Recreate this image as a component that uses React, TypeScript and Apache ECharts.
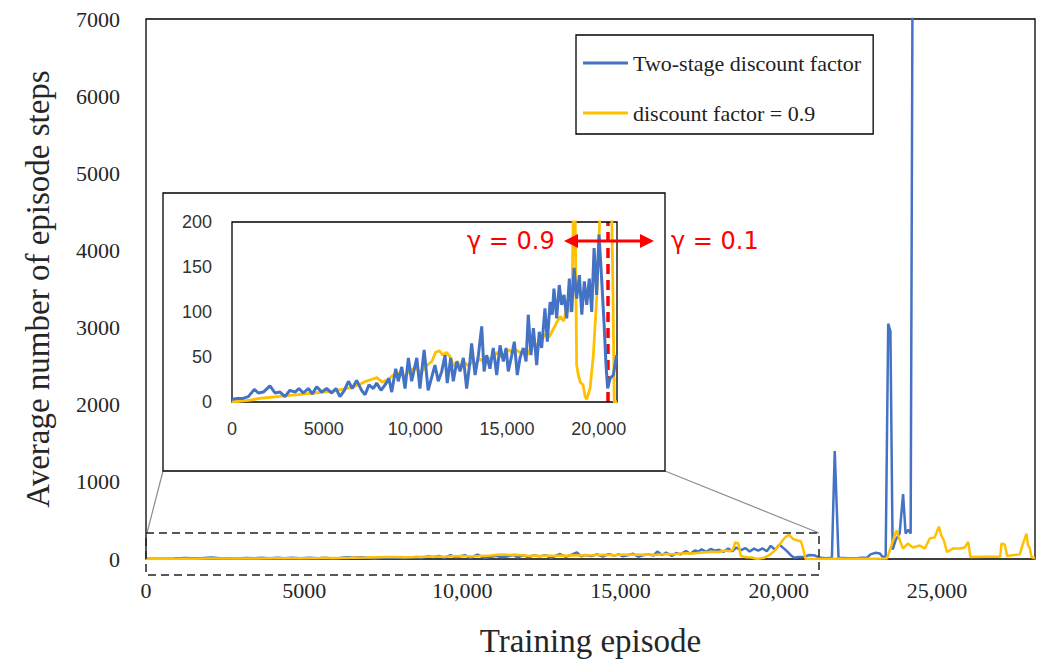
import React, { useEffect, useRef } from 'react';
import * as echarts from 'echarts';

// ---- data (episode, average steps) ----
const blueEarly: [number, number][] = [
  [0, 3], [300, 4], [600, 4], [890, 6], [1220, 14], [1440, 10], [1710, 11], [2070, 18], [2350, 10], [2620, 11],
  [2890, 6], [3160, 13], [3440, 11], [3650, 15], [3890, 10], [4160, 15], [4380, 9], [4620, 17], [4890, 11], [5160, 15],
  [5440, 10], [5670, 15], [5890, 6], [6130, 13], [6350, 23], [6560, 15], [6800, 24], [7070, 13], [7260, 8], [7470, 19],
  [7710, 15], [7890, 21], [8130, 13], [8350, 19], [8560, 26], [8710, 11], [8930, 37], [9070, 23], [9260, 39], [9440, 15],
  [9620, 49], [9800, 23], [10080, 49], [10250, 15], [10480, 58], [10700, 13], [11070, 41], [11250, 23], [11440, 34], [11620, 52],
  [11740, 21], [11930, 49], [12070, 23], [12260, 45], [12440, 34], [12620, 49], [12800, 15], [12980, 45], [13070, 65], [13260, 30],
  [13440, 52], [13620, 84], [13750, 34], [13890, 52], [14070, 37], [14250, 60], [14440, 30], [14620, 63], [14800, 45], [14950, 60],
  [15070, 34], [15260, 52], [15400, 67], [15560, 30], [15710, 49], [15890, 60], [16040, 45], [16160, 97], [16310, 52], [16440, 82],
  [16620, 41], [16760, 78], [16890, 60], [17070, 104], [17200, 67], [17350, 111], [17470, 97], [17560, 126], [17710, 93], [17850, 130],
  [17980, 108], [18110, 119], [18260, 93], [18400, 137], [18530, 100], [18660, 149], [18800, 115], [18950, 141], [19080, 97], [19220, 134],
  [19350, 108], [19490, 137], [19620, 100], [19750, 171], [19890, 119], [20020, 186], [20170, 134], [20290, 89], [20400, 41], [20490, 15],
  [20620, 26], [20800, 30], [20980, 52],
];
const blueLate: [number, number][] = [
  [21150, 45], [21300, 15], [21500, 10], [21680, 15], [21770, 1400], [21890, 15], [22200, 10], [22500, 12], [22800, 20], [22900, 60],
  [23050, 80], [23200, 70], [23300, 20], [23380, 40], [23460, 3050], [23530, 2950], [23600, 120], [23700, 250], [23820, 330], [23930, 840],
  [24010, 330], [24100, 380], [24170, 330], [24230, 7600],
];
const yellowEarly: [number, number][] = [
  [0, 0], [500, 1], [1000, 2], [1500, 4], [2000, 5], [2500, 6], [3000, 7], [3500, 8], [4000, 9], [4500, 10],
  [5000, 11], [5500, 12], [6000, 14], [6500, 16], [7000, 20], [7300, 23], [7600, 25], [7900, 27], [8200, 22], [8500, 25],
  [8800, 30], [9100, 32], [9400, 28], [9700, 35], [10000, 38], [10300, 33], [10600, 40], [10900, 45], [11100, 55], [11300, 57],
  [11500, 52], [11700, 55], [11900, 50], [12100, 40], [12300, 45], [12500, 38], [12700, 44], [12900, 40], [13100, 45], [13300, 42],
  [13500, 48], [13700, 45], [13900, 50], [14100, 47], [14300, 52], [14500, 55], [14700, 50], [14900, 53], [15100, 58], [15300, 55],
  [15500, 58], [15700, 55], [15900, 57], [16100, 52], [16300, 60], [16500, 65], [16700, 62], [16900, 70], [17100, 75], [17300, 72],
  [17500, 80], [17700, 88], [17900, 95], [18100, 90], [18300, 110], [18450, 100], [18550, 120], [18620, 215], [18720, 205], [18800, 41],
  [18890, 30], [19000, 22], [19150, 19], [19260, 6], [19350, 3], [19530, 15], [19710, 52], [19890, 115], [20070, 210], [20200, 280],
  [20320, 315], [20450, 260], [20600, 240], [20700, 230], [20780, 120], [20850, 0], [21000, 0],
];
const yellowLate: [number, number][] = [
  [21300, 0], [22000, 2], [23000, 3], [23420, 5], [23560, 175], [23720, 370], [23830, 240], [23930, 135], [24080, 200], [24240, 150],
  [24460, 175], [24620, 135], [24770, 265], [24930, 280], [25060, 420], [25140, 305], [25220, 240], [25320, 90], [25500, 135], [25720, 135],
  [25880, 150], [25990, 220], [26060, 25], [26500, 30], [27000, 30], [27040, 200], [27140, 190], [27220, 40], [27620, 60], [27720, 200],
  [27830, 330], [27880, 175], [27930, 150], [27990, 25], [28100, 10],
];
const switchEpisode = 20480;
const seriesNames = ['Two-stage discount factor', 'discount factor = 0.9'];
const mainXMax = 28100;
const insetXMax = 21000;

const BLUE = '#4472C4';
const YELLOW = '#FFC000';
const SERIF = '"Liberation Serif", "DejaVu Serif", serif';
const SANS = '"Liberation Sans", "DejaVu Sans", sans-serif';
const GAMMA_FONT = '"DejaVu Sans", "Liberation Sans", sans-serif';

const xFmt = (v: number) => (v % 5000 !== 0 ? '' : v < 10000 ? String(v) : v.toLocaleString('en-US'));

export default function App() {
  const ref = useRef<HTMLDivElement>(null);
  useEffect(() => {
    if (!ref.current) return;
    const chart = echarts.init(ref.current, undefined, { renderer: 'svg' });
    chart.setOption({
      animation: false,
      backgroundColor: '#fff',
      legend: {
        data: seriesNames,
        orient: 'vertical',
        left: 576,
        top: 35,
        icon: 'rect',
        itemWidth: 45,
        itemHeight: 3,
        itemGap: 28,
        padding: [17, 12, 10, 7],
        borderColor: '#000',
        borderWidth: 1.3,
        textStyle: { fontFamily: SERIF, fontSize: 22, color: '#222' },
      },
      grid: [
        { left: 146, top: 19, width: 889, height: 540, show: true, borderColor: '#000', borderWidth: 1.3, z: 1 },
        { left: 232, top: 222, width: 385, height: 180, show: true, borderColor: '#000', borderWidth: 1.3, z: 10, backgroundColor: 'rgba(0,0,0,0)' },
      ],
      xAxis: [
        {
          type: 'value', gridIndex: 0, min: 0, max: mainXMax, interval: 5000,
          splitLine: { show: false }, axisTick: { show: false }, axisLine: { show: false },
          axisLabel: { formatter: xFmt, fontFamily: SERIF, fontSize: 22, color: '#262626', margin: 20, showMaxLabel: false },
          name: 'Training episode', nameLocation: 'middle', nameGap: 65,
          nameTextStyle: { fontFamily: SERIF, fontSize: 33, color: '#262626' },
        },
        {
          type: 'value', gridIndex: 1, min: 0, max: insetXMax, interval: 5000, z: 10,
          splitLine: { show: false }, axisTick: { show: false }, axisLine: { show: false },
          axisLabel: { formatter: xFmt, fontFamily: SANS, fontSize: 18, color: '#333', margin: 18, showMaxLabel: false },
        },
      ],
      yAxis: [
        {
          type: 'value', gridIndex: 0, min: 0, max: 7000, interval: 1000,
          splitLine: { show: false }, axisTick: { show: false }, axisLine: { show: false },
          axisLabel: { formatter: (v: number) => String(v), fontFamily: SERIF, fontSize: 22, color: '#262626', margin: 26 },
          name: 'Average number of episode steps', nameLocation: 'middle', nameGap: 92,
          nameTextStyle: { fontFamily: SERIF, fontSize: 33, color: '#262626' },
        },
        {
          type: 'value', gridIndex: 1, min: 0, max: 200, interval: 50, z: 10,
          splitLine: { show: false }, axisTick: { show: false }, axisLine: { show: false },
          axisLabel: { fontFamily: SANS, fontSize: 18, color: '#333', margin: 20 },
        },
      ],
      series: [
        {
          name: seriesNames[0], type: 'line', xAxisIndex: 0, yAxisIndex: 0, data: [...blueEarly, ...blueLate],
          showSymbol: false, symbol: 'none', lineStyle: { color: BLUE, width: 2.5 }, itemStyle: { color: BLUE }, z: 3,
        },
        {
          name: seriesNames[1], type: 'line', xAxisIndex: 0, yAxisIndex: 0, data: [...yellowEarly, ...yellowLate],
          showSymbol: false, symbol: 'none', lineStyle: { color: YELLOW, width: 2.5 }, itemStyle: { color: YELLOW }, z: 3,
        },
        {
          name: seriesNames[1], type: 'line', xAxisIndex: 1, yAxisIndex: 1, data: yellowEarly,
          showSymbol: false, symbol: 'none', lineStyle: { color: YELLOW, width: 2.8 }, itemStyle: { color: YELLOW }, z: 11,
        },
        {
          name: seriesNames[0], type: 'line', xAxisIndex: 1, yAxisIndex: 1, data: blueEarly,
          showSymbol: false, symbol: 'none', lineStyle: { color: BLUE, width: 3 }, itemStyle: { color: BLUE }, z: 12,
          markLine: {
            silent: true, symbol: ['none', 'none'], label: { show: false },
            lineStyle: { color: '#FF0000', type: [10, 6], width: 3.5 },
            data: [[{ coord: [switchEpisode, 0] }, { coord: [switchEpisode, 200] }]],
          },
        },
      ],
      graphic: [
        { type: 'rect', z: 5, shape: { x: 163, y: 193, width: 502, height: 278 }, style: { fill: '#fff', stroke: '#000', lineWidth: 1.3 } },
        { type: 'line', z: 4, shape: { x1: 147, y1: 533, x2: 163, y2: 471 }, style: { stroke: '#8c8c8c', lineWidth: 1.2 } },
        { type: 'line', z: 4, shape: { x1: 819, y1: 533, x2: 665, y2: 471 }, style: { stroke: '#8c8c8c', lineWidth: 1.2 } },
        { type: 'rect', z: 6, shape: { x: 146, y: 533, width: 673, height: 42 }, style: { fill: 'none', stroke: '#222', lineWidth: 1.5, lineDash: [8, 5] } },
        { type: 'line', z: 20, shape: { x1: 574, y1: 241, x2: 644, y2: 241 }, style: { stroke: '#FF0000', lineWidth: 3 } },
        { type: 'polygon', z: 20, shape: { points: [[564, 241], [578, 234], [578, 248]] }, style: { fill: '#FF0000' } },
        { type: 'polygon', z: 20, shape: { points: [[654, 241], [640, 234], [640, 248]] }, style: { fill: '#FF0000' } },
        { type: 'text', z: 20, x: 467, y: 241, style: { text: 'γ = 0.9', fill: '#FF0000', font: `24px ${GAMMA_FONT}`, verticalAlign: 'middle' } },
        { type: 'text', z: 20, x: 671, y: 241, style: { text: 'γ = 0.1', fill: '#FF0000', font: `24px ${GAMMA_FONT}`, verticalAlign: 'middle' } },
      ],
    });
    return () => chart.dispose();
  }, []);
  return <div ref={ref} style={{ position: 'fixed', left: 0, top: 0, width: 1042, height: 662, background: '#fff' }} />;
}
